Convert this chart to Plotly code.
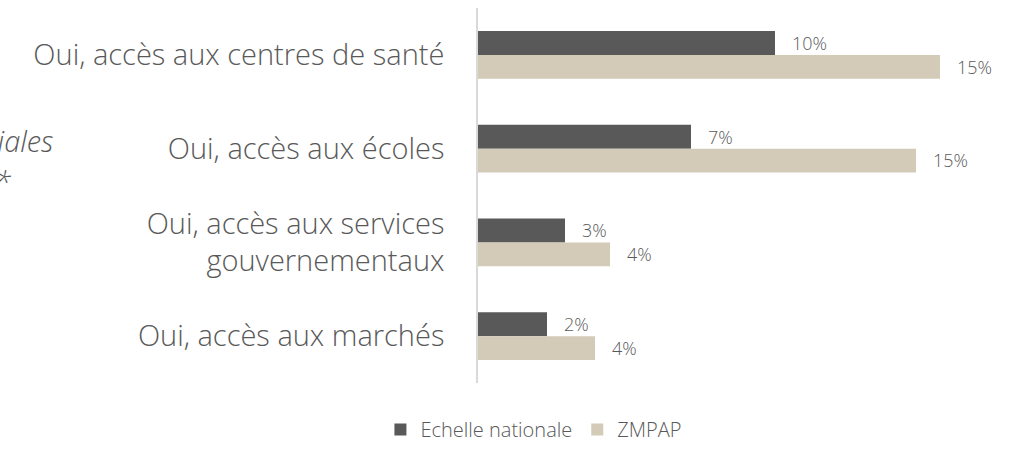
import plotly.graph_objects as go

categories = ["Oui, accès aux centres de santé", "Oui, accès aux écoles",
              "Oui, accès aux services<br>gouvernementaux", "Oui, accès aux marchés"]
nationale = [9.9, 7.1, 2.9, 2.3]
zmpap = [15.4, 14.6, 4.4, 3.9]
series_names = ["Echelle nationale", "ZMPAP"]
colors = ["#595959", "#D3CBB8"]

FONT = "Open Sans"
GREY = "#595959"

fig = go.Figure()
for name, vals, col in zip(series_names, [nationale, zmpap], colors):
    fig.add_trace(go.Bar(
        y=categories, x=vals, name=name, orientation="h",
        marker=dict(color=col, line=dict(width=0)),
        text=[f"{round(v)}%" for v in vals],
        textposition="outside",
        texttemplate="\u00a0\u00a0\u00a0%{text}",
        textfont=dict(family=FONT, size=21, color=GREY, weight=300),
        cliponaxis=False,
    ))

fig.update_layout(
    width=1017, height=449,
    margin=dict(l=478, r=17, t=8, b=66),
    barmode="group", bargap=0.49, bargroupgap=0,
    plot_bgcolor="white", paper_bgcolor="white",
    font=dict(family=FONT, color=GREY, weight=300),
    xaxis=dict(range=[0, 17.4], showgrid=False, zeroline=False,
               showticklabels=False, showline=False),
    yaxis=dict(autorange="reversed", showline=True, linecolor="#D9D9D9",
               linewidth=1.5, ticks="", showgrid=False,
               tickfont=dict(family=FONT, size=29, color=GREY, weight=300),
               ticklabelstandoff=26),
    legend=dict(orientation="h", xref="container", yref="container",
                x=0.525, y=0.0, xanchor="center", yanchor="bottom",
                font=dict(family=FONT, size=20, color=GREY, weight=300),
                itemwidth=30, traceorder="normal"),
    annotations=[
        dict(text="<i>Infrastructures sociales</i>", xref="paper", yref="paper",
             x=(55 - 478) / 522, y=(383 - 140) / 375, xanchor="right", yanchor="middle",
             showarrow=False, font=dict(family=FONT, size=29, color=GREY, weight=300)),
        dict(text="<i>*</i>", xref="paper", yref="paper",
             x=(13 - 478) / 522, y=(383 - 181) / 375, xanchor="right", yanchor="middle",
             showarrow=False, font=dict(family=FONT, size=29, color=GREY, weight=300)),
    ],
    showlegend=True,
)

fig.write_html("out.html", config={"displayModeBar": False},
               post_script="document.body.style.margin='0';document.body.style.overflow='hidden';")
